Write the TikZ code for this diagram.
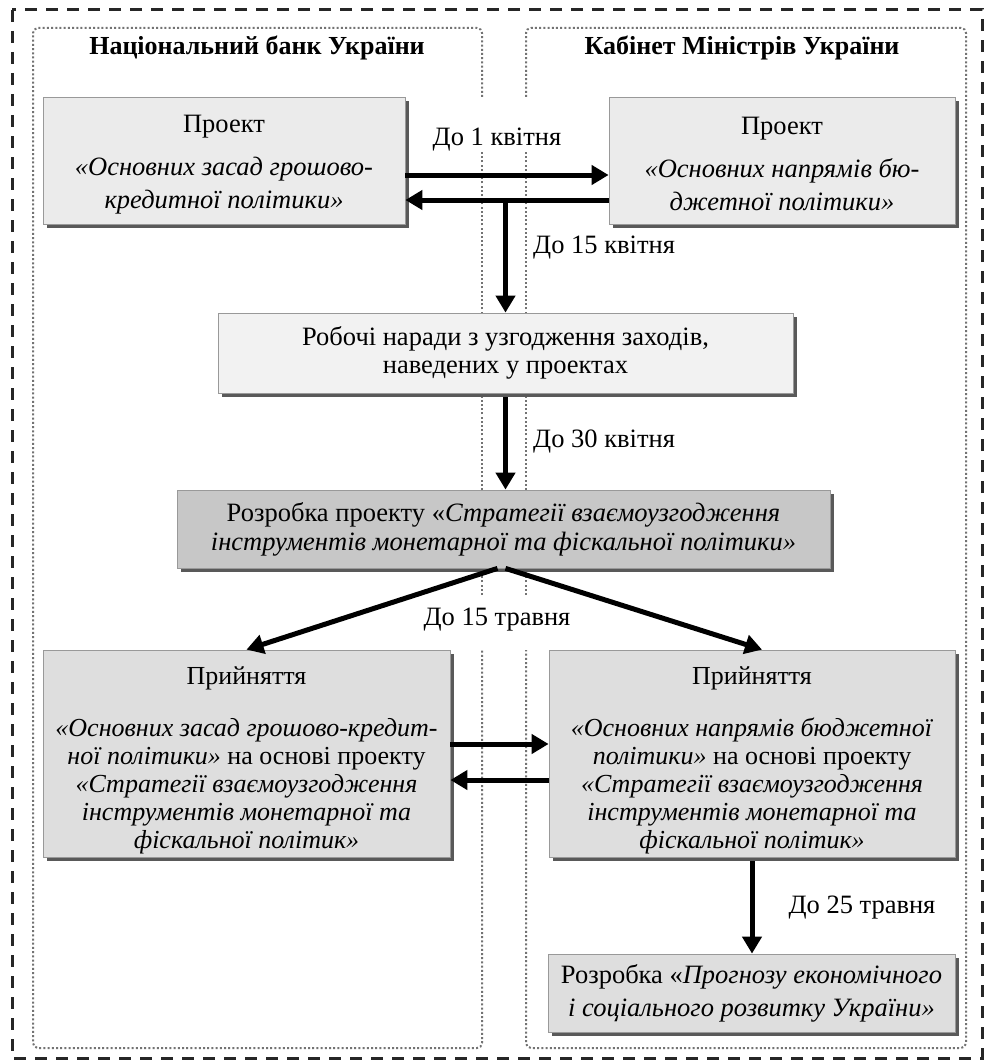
\documentclass[tikz,border=0pt]{standalone}
\usepackage{fontspec}
\setmainfont{Liberation Serif}
\usetikzlibrary{arrows.meta,shadows,calc}
\begin{document}
\begin{tikzpicture}[x=1pt,y=-1pt,
  box/.style={draw=black!40, line width=0.8pt, inner sep=0pt, align=center,
    drop shadow={shadow xshift=4pt, shadow yshift=-4pt, fill=black!65, opacity=1}},
  light/.style={box, fill=black!8},
  mid/.style={box, fill=black!13},
  dark/.style={box, fill=black!22},
  head/.style={font=\fontsize{26}{30}\selectfont\bfseries, inner sep=0pt},
  lbl/.style={font=\fontsize{26.5}{30}\selectfont, inner sep=0pt},
  arr/.style={line width=5pt, -{Triangle[length=17pt,width=19pt]}},
  panel/.style={draw=black!55, line width=2pt, dash pattern=on 2pt off 2.2pt, rounded corners=5pt},
  frame/.style={draw=black!85, line width=3pt, dash pattern=on 12pt off 9pt}
]
\useasboundingbox (0,0) rectangle (985,1062);

% outer frame
\draw[frame] (12,10) rectangle (982,1058);

% the two institution panels, broken where labels sit
\draw[panel] (482,97) -- (482,28) -- (33,28) -- (33,1048) -- (482,1048) -- (482,650);
\draw[panel] (482,595) -- (482,150);
\draw[panel] (526,97) -- (526,28) -- (966,28) -- (966,1048) -- (526,1048) -- (526,650);
\draw[panel] (526,595) -- (526,150);

\node[head] (hnb) at (257,48) {Національний банк України};
\node[head] (hkm) at (742,48) {Кабінет Міністрів України};

% boxes
\node[light, font=\fontsize{26.5}{33}\selectfont, minimum width=362pt, minimum height=127pt] (a) at (224,160.5)
  {\rule{0pt}{25pt}Проект\\[10pt]\textit{«Основних засад грошово-}\\\textit{кредитної політики»}};
\node[light, font=\fontsize{26.5}{33}\selectfont, minimum width=346pt, minimum height=127pt] (b) at (782,160.5)
  {\rule{0pt}{25pt}Проект\\[10pt]\textit{«Основних напрямів бю-}\\\textit{джетної політики»}};
\node[box, fill=black!5, font=\fontsize{26.5}{28}\selectfont, minimum width=575pt, minimum height=80pt] (c) at (505.5,353)
  {Робочі наради з узгодження заходів,\\наведених у проектах};
\node[dark, font=\fontsize{26.5}{29}\selectfont, minimum width=653pt, minimum height=78pt] (d) at (503.5,529)
  {Розробка проекту «\textit{Стратегії взаємоузгодження}\\\textit{інструментів монетарної та фіскальної політики»}};
\node[mid, font=\fontsize{26}{28}\selectfont, minimum width=407pt, minimum height=207pt] (e) at (246.5,753.5)
  {\rule{0pt}{31pt}Прийняття\\[24pt]\textit{«Основних засад грошово-кредит-}\\\textit{ної політики»} на основі проекту\\\textit{«Стратегії взаємоузгодження}\\\textit{інструментів монетарної та}\\\textit{фіскальної політик»}};
\node[mid, font=\fontsize{26}{28}\selectfont, minimum width=406pt, minimum height=207pt] (f) at (752,753.5)
  {\rule{0pt}{31pt}Прийняття\\[24pt]\textit{«Основних напрямів бюджетної}\\\textit{політики»} на основі проекту\\\textit{«Стратегії взаємоузгодження}\\\textit{інструментів монетарної та}\\\textit{фіскальної політик»}};
\node[mid, font=\fontsize{26.5}{33}\selectfont, minimum width=407pt, minimum height=78pt] (g) at (751.5,993)
  {Розробка «\textit{Прогнозу економічного}\\\textit{і соціального розвитку України»}};

% labels
\node[lbl] (l1) at (497,140) {До 1 квітня};
\node[lbl, anchor=west] (l2) at (533,248) {До 15 квітня};
\node[lbl, anchor=west] (l3) at (533,442) {До 30 квітня};
\node[lbl] (l4) at (497,620) {До 15 травня};
\node[lbl] (l5) at (862,908) {До 25 травня};

% connectors
\coordinate (ab) at ($(a.east)+(0,14.5)$);
\coordinate (ba) at ($(b.west)+(0,39.5)$);
\draw[arr] (ab) -- (ab -| b.west);
\draw[arr] (ba) -- (ba -| a.east);
\draw[arr] (ba -| c.north) -- (c.north);
\draw[arr] ($(c.south)+(0,4)$) -- (c.south |- d.north);
\draw[arr] ($(d.south)+(-6,0)$) -- (e.north);
\draw[arr] ($(d.south)+(2,0)$) -- ($(f.north)+(10,0)$);
\coordinate (ef) at ($(e.east)+(0,-9.5)$);
\coordinate (fe) at ($(f.west)+(0,26.5)$);
\draw[arr] (ef) -- (ef -| f.west);
\draw[arr] (fe) -- (fe -| e.east);
\draw[arr] ($(f.south)+(0,4)$) -- (f.south |- g.north);
\end{tikzpicture}
\end{document}
